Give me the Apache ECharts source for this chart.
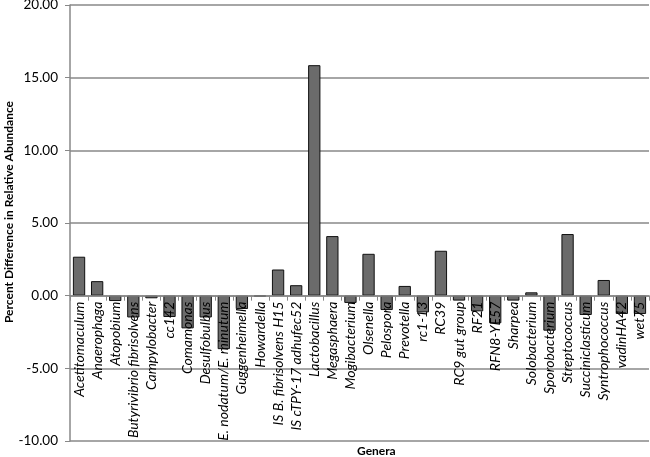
<!DOCTYPE html>
<html>
<head>
<meta charset="utf-8">
<script src="https://cdn.jsdelivr.net/npm/echarts@6/dist/echarts.min.js"></script>
<style>html,body{margin:0;padding:0;background:#fff}#c{width:650px;height:457px}</style>
</head>
<body>
<div id="c"></div>
<script>
var categories = ["Acetitomaculum","Anaerophaga","Atopobium","Butyrivibrio fibrisolvens","Campylobacter","cc142","Comamonas","Desulfobulbus","E. nodatum/E. minutum","Guggenheimella","Howardella","IS B. fibrisolvens H15","IS cTPY-17 adhufec52","Lactobacillus","Megasphaera","Mogibacterium","Olsenella","Pelospora","Prevotella","rc1-13","RC39","RC9 gut group","RF21","RFN8-YE57","Sharpea","Solobacterium","Sporobacterium","Streptococcus","Succiniclasticum","Syntrophococcus","vadinHA42","wet75"];
var values = [2.68,1.0,-0.37,-1.5,-0.18,-1.47,-2.25,-1.5,-3.68,-0.92,-0.05,1.8,0.72,15.86,4.1,-0.5,2.88,-0.99,0.67,-1.15,3.09,-0.34,-1.08,-1.9,-0.34,0.23,-2.41,4.24,-1.33,1.08,-1.26,-1.26];
var yTicks = {min:-10, max:20, interval:5};

var gridTop = 5, gridBottom = 16, H = 457;
var plotH = H - gridTop - gridBottom;
var zeroOffset = -plotH * (0 - yTicks.min) / (yTicks.max - yTicks.min);

var chart = echarts.init(document.getElementById('c'), null, {renderer:'canvas'});
chart.setOption({
  animation:false,
  grid:{left:70,right:1,top:gridTop,bottom:gridBottom,containLabel:false,outerBoundsMode:'none'},
  xAxis:{
    type:'category',
    data:categories,
    z:3,
    position:'bottom',
    offset:zeroOffset,
    axisLine:{show:true,onZero:false,lineStyle:{color:'#888',width:1.5}},
    axisTick:{show:true,length:5,alignWithLabel:false,lineStyle:{color:'#888'}},
    axisLabel:{rotate:90,interval:0,margin:6,fontFamily:'Lato',fontStyle:'italic',fontSize:14,color:'#000',hideOverlap:false},
    splitLine:{show:false}
  },
  yAxis:{
    type:'value',
    min:yTicks.min,max:yTicks.max,interval:yTicks.interval,
    axisLine:{show:true,lineStyle:{color:'#888',width:1.5}},
    axisTick:{show:true,length:5,lineStyle:{color:'#888'}},
    axisLabel:{formatter:function(v){return v.toFixed(2);},fontFamily:'Lato',fontSize:13.5,color:'#000',margin:12},
    splitLine:{show:true,lineStyle:{color:'#888',width:1.5}}
  },
  series:[{
    type:'bar',
    data:values,
    barCategoryGap:'32%',
    itemStyle:{color:'#6b6b6b',borderColor:'#111',borderWidth:1}
  }],
  graphic:[{
    type:'text',left:357,top:445,
    style:{text:'Genera',font:'bold 12px Lato',fill:'#000',textAlign:'center'}
  },{
    type:'text',x:9,y:212,rotation:Math.PI/2,
    style:{text:'Percent Difference in Relative Abundance',font:'bold 12px Lato',fill:'#000',textAlign:'center',textVerticalAlign:'middle'}
  }]
});
</script>
</body>
</html>
